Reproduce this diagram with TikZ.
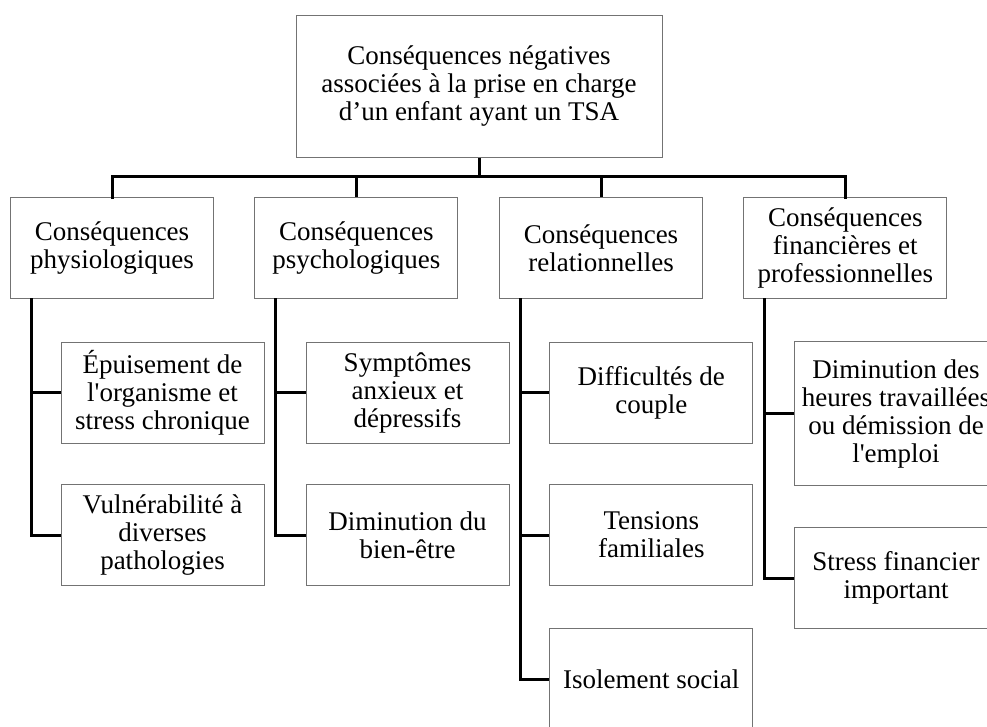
\documentclass[tikz,border=0pt]{standalone}
\usepackage{fontspec}
\setmainfont{Liberation Serif}[Ligatures=TeXOff]
\begin{document}
\begin{tikzpicture}[x=1pt,y=-1pt,
  box/.style={draw=black!55, line width=1pt, inner sep=0pt, align=center,
    font=\fontsize{27}{28}\selectfont, minimum width=203pt, minimum height=101pt},
  conn/.style={draw=black, line width=3pt}]
\useasboundingbox (0,0) rectangle (987,726);
\clip (0,0) rectangle (987,726);
% top
\node[box, minimum width=366pt, minimum height=142pt] (top) at (479,86)
  {Conséquences négatives\\associées à la prise en charge\\d’un enfant ayant un TSA};
% level 2
\node[box] (b1) at (112,248) {Conséquences\\physiologiques};
\node[box] (b2) at (356.3,248) {Conséquences\\psychologiques};
\node[box] (b3) at (601,248) {Conséquences\\relationnelles};
\node[box] (b4) at (845.3,248) {Conséquences\\financières et\\professionnelles};
% level 3
\node[box] (a1) at (162.5,392.5) {Épuisement de\\l'organisme et\\stress chronique};
\node[box] (a2) at (162.5,535) {Vulnérabilité à\\diverses\\pathologies};
\node[box] (p1) at (407.5,392.5) {Symptômes\\anxieux et\\dépressifs};
\node[box] (p2) at (407.5,535) {Diminution du\\bien-être};
\node[box] (r1) at (651.3,392.5) {Difficultés de\\couple};
\node[box] (r2) at (651.3,535) {Tensions\\familiales};
\node[box] (r3) at (651.3,679) {Isolement social};
\node[box, minimum height=144pt] (f1) at (896,413.7) {Diminution des\\heures travaillées\\ou démission de\\l'emploi};
\node[box] (f2) at (896,578.3) {Stress financier\\important};
% connectors top
\coordinate (bar) at (479,176);
\draw[conn] (top.south) -- (bar);
\draw[conn, line cap=rect] (b1.north) |- (bar) -| (b4.north);
\draw[conn] (b2.north) -- (b2.north |- bar);
\draw[conn] (b3.north) -- (b3.north |- bar);
% columns
\coordinate (c1) at (31,298.3);
\coordinate (c2) at (275.7,298.3);
\coordinate (c3) at (520,298.3);
\coordinate (c4) at (764.3,298.3);
\draw[conn] (c1) |- (a2.west);
\draw[conn] (a1.west) -- (a1.west -| c1);
\draw[conn] (c2) |- (p2.west);
\draw[conn] (p1.west) -- (p1.west -| c2);
\draw[conn] (c3) |- (r3.west);
\draw[conn] (r1.west) -- (r1.west -| c3);
\draw[conn] (r2.west) -- (r2.west -| c3);
\draw[conn] (c4) |- (f2.west);
\draw[conn] (f1.west) -- (f1.west -| c4);
\end{tikzpicture}
\end{document}
